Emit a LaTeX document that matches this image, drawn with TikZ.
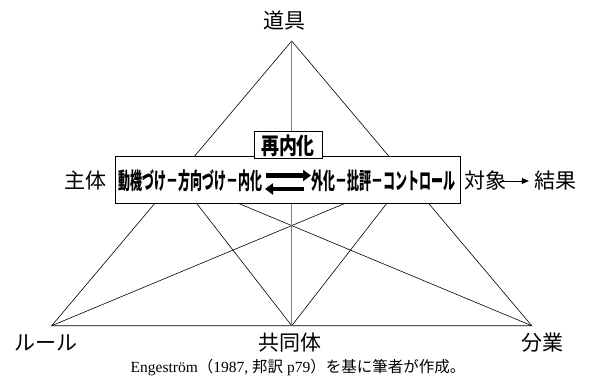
\documentclass[tikz,border=0pt]{standalone}
\usepackage{fontspec}
\usepackage{graphicx}
\setmainfont{Liberation Serif}
\newfontfamily\jp{Noto Sans CJK JP}
\usetikzlibrary{arrows.meta}
\begin{document}
\begin{tikzpicture}[x=1pt,y=-1pt,
  edge/.style={line width=0.6pt, black},
  midedge/.style={line width=0.9pt, black!50},
  lab/.style={font=\jp\fontsize{21}{21}\selectfont, inner sep=0pt},
  boxtxt/.style={font=\jp\bfseries\fontsize{23}{23}\selectfont, inner sep=0pt},
  frame/.style={draw, line width=0.9pt, fill=white, inner sep=0pt},
  dblarrow/.style={line width=4.2pt, -{Triangle[length=8pt,width=11pt]}},
  resarrow/.style={line width=0.8pt, -{Triangle[length=7pt,width=6pt]}}
]
\useasboundingbox (0,0) rectangle (593,387);
% triangle points
\coordinate (T) at (291.7,41);
\coordinate (L) at (51.7,325.7);
\coordinate (R) at (531.7,325.7);
\coordinate (M) at (291.7,325.7);
\coordinate (S) at (176.6,177.6);
\coordinate (O) at (406.8,177.6);
% lines
\draw[edge] (T) -- (L) -- (R) -- cycle;
\draw[edge] (S) -- (M);
\draw[edge] (S) -- (R);
\draw[edge] (O) -- (M);
\draw[edge] (O) -- (L);
\draw[edge] (S) -- (O);
\draw[midedge] (T) -- (M);
% main box
\node[frame, minimum width=345, minimum height=47.5] (box) at (287.5,179.75) {};
\node[boxtxt, anchor=west] (lt) at (118.5,181) {\scalebox{0.522}[1]{動機づけ－方向づけ－内化}};
\node[boxtxt, anchor=east] (rt) at (456,181) {\scalebox{0.522}[1]{外化－批評－コントロール}};
\coordinate (a1s) at (266,175.5);
\coordinate (a1e) at (311,175.5);
\coordinate (a2s) at (304,189);
\coordinate (a2e) at (265,189);
\draw[dblarrow] (a1s) -- (a1e);
\draw[dblarrow] (a2s) -- (a2e);
% small box
\node[frame, minimum width=68, minimum height=27] (re) at (288,144.5) {};
\node[boxtxt] (retxt) at (288,146) {\scalebox{0.78}[1]{再内化}};
% labels
\node[lab] (tool) at (284,21) {道具};
\node[lab] (subj) at (85,181) {主体};
\node[lab] (obj) at (485,181) {対象};
\node[lab] (res) at (555,181) {結果};
\node[lab] (rule) at (46,343) {ルール};
\node[lab] (comm) at (290,343) {共同体};
\node[lab] (div) at (542,343) {分業};
\draw[resarrow] ([xshift=-6pt]obj.east) -- ([xshift=-5pt]res.west);
% caption
\node[inner sep=0pt, font=\fontsize{15.5}{15.5}\selectfont] (cap) at (298,368)
  {Engeström{\jp （}1987, {\jp 邦訳} p79{\jp ）を基に筆者が作成。}};
\end{tikzpicture}
\end{document}
